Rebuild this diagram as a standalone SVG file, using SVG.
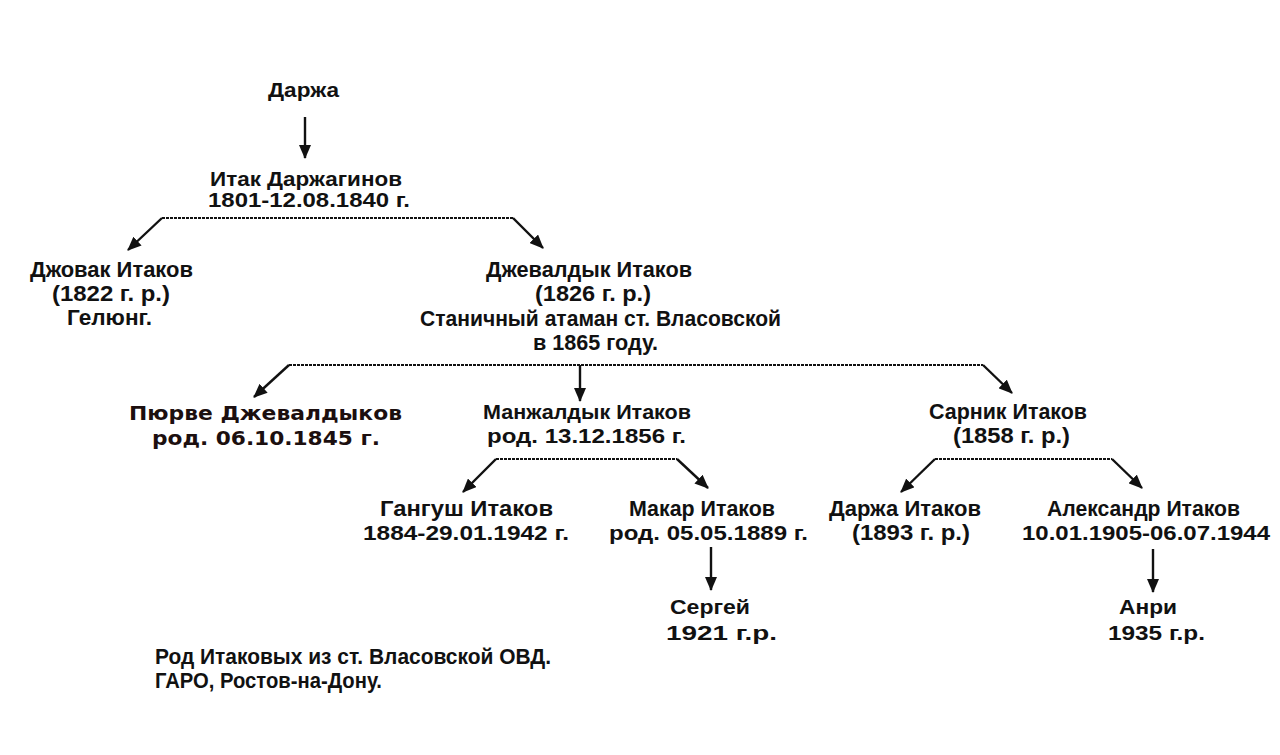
<svg xmlns="http://www.w3.org/2000/svg" width="1280" height="755" viewBox="0 0 1280 755">
<style>
text{font-family:"Liberation Sans",Arial,sans-serif;font-weight:bold;font-size:21px;fill:#111}
.c{font-size:22px}
.v{font-family:"DejaVu Sans",Verdana,sans-serif;font-size:20px;fill:#1c0f0f}
.a{fill:none;stroke:#111;stroke-width:2.4}
.d{fill:none;stroke:#111;stroke-width:2.2;stroke-dasharray:3 1}
</style>
<defs>
<marker id="ah" viewBox="0 0 14 12" refX="13" refY="6" markerWidth="14" markerHeight="12" markerUnits="userSpaceOnUse" orient="auto">
<path d="M0,0 L14,6 L0,12 z" fill="#111"/>
</marker>
</defs>
<rect width="1280" height="755" fill="#fff"/>
<g id="connectors">
<path class="a" d="M305,117 L305,158" marker-end="url(#ah)"/>
<path class="d" d="M162,218 H513"/>
<path class="a" d="M162,218 L128,250" marker-end="url(#ah)"/>
<path class="a" d="M513,218 L543,248" marker-end="url(#ah)"/>
<path class="d" d="M289,365 H983"/>
<path class="a" d="M289,365 L254,397" marker-end="url(#ah)"/>
<path class="a" d="M580,365 L580,401" marker-end="url(#ah)"/>
<path class="a" d="M983,365 L1012,393" marker-end="url(#ah)"/>
<path class="d" d="M496,459 H677"/>
<path class="a" d="M496,459 L463,492" marker-end="url(#ah)"/>
<path class="a" d="M677,459 L708,488" marker-end="url(#ah)"/>
<path class="d" d="M935,459 H1112"/>
<path class="a" d="M935,459 L901,492" marker-end="url(#ah)"/>
<path class="a" d="M1112,459 L1142,488" marker-end="url(#ah)"/>
<path class="a" d="M711,547 L711,590" marker-end="url(#ah)"/>
<path class="a" d="M1153,549 L1153,592" marker-end="url(#ah)"/>
</g>
<g id="darzha"><text x="268" y="97" textLength="71" lengthAdjust="spacingAndGlyphs">Даржа</text></g>
<g id="itak">
<text x="210" y="186" textLength="192" lengthAdjust="spacingAndGlyphs">Итак Даржагинов</text>
<text x="208" y="207" textLength="202" lengthAdjust="spacingAndGlyphs">1801-12.08.1840 г.</text>
</g>
<g id="dzhovak">
<text class="c" x="30" y="277" textLength="163" lengthAdjust="spacingAndGlyphs">Джовак Итаков</text>
<text class="c" x="52" y="301" textLength="118" lengthAdjust="spacingAndGlyphs">(1822 г. р.)</text>
<text class="c" x="67" y="325" textLength="85" lengthAdjust="spacingAndGlyphs">Гелюнг.</text>
</g>
<g id="dzhevaldyk">
<text class="c" x="486" y="277" textLength="206" lengthAdjust="spacingAndGlyphs">Джевалдык Итаков</text>
<text class="c" x="535" y="301" textLength="116" lengthAdjust="spacingAndGlyphs">(1826 г. р.)</text>
<text class="c" x="420" y="326" textLength="361" lengthAdjust="spacingAndGlyphs">Станичный атаман ст. Власовской</text>
<text class="c" x="533" y="350" textLength="125" lengthAdjust="spacingAndGlyphs">в 1865 году.</text>
</g>
<g id="pyurve">
<text class="v" x="129" y="420" textLength="273" lengthAdjust="spacingAndGlyphs">Пюрве Джевалдыков</text>
<text class="v" x="152" y="445" textLength="228" lengthAdjust="spacingAndGlyphs">род. 06.10.1845 г.</text>
</g>
<g id="manzhaldyk">
<text x="483" y="419" textLength="208" lengthAdjust="spacingAndGlyphs">Манжалдык Итаков</text>
<text x="487" y="443" textLength="199" lengthAdjust="spacingAndGlyphs">род. 13.12.1856 г.</text>
</g>
<g id="sarnik">
<text class="c" x="929" y="419" textLength="158" lengthAdjust="spacingAndGlyphs">Сарник Итаков</text>
<text class="c" x="953" y="443" textLength="117" lengthAdjust="spacingAndGlyphs">(1858 г. р.)</text>
</g>
<g id="gangush">
<text class="c" x="380" y="516" textLength="173" lengthAdjust="spacingAndGlyphs">Гангуш Итаков</text>
<text x="363" y="540" textLength="206" lengthAdjust="spacingAndGlyphs">1884-29.01.1942 г.</text>
</g>
<g id="makar">
<text class="c" x="629" y="516" textLength="146" lengthAdjust="spacingAndGlyphs">Макар Итаков</text>
<text x="609" y="540" textLength="199" lengthAdjust="spacingAndGlyphs">род. 05.05.1889 г.</text>
</g>
<g id="darzha-itakov">
<text class="c" x="829" y="516" textLength="152" lengthAdjust="spacingAndGlyphs">Даржа Итаков</text>
<text class="c" x="852" y="540" textLength="118" lengthAdjust="spacingAndGlyphs">(1893 г. р.)</text>
</g>
<g id="aleksandr">
<text class="c" x="1047" y="516" textLength="193" lengthAdjust="spacingAndGlyphs">Александр Итаков</text>
<text x="1022" y="540" textLength="248" lengthAdjust="spacingAndGlyphs">10.01.1905-06.07.1944</text>
</g>
<g id="sergey">
<text x="670" y="614" textLength="80" lengthAdjust="spacingAndGlyphs">Сергей</text>
<text x="666" y="640" textLength="111" lengthAdjust="spacingAndGlyphs">1921 г.р.</text>
</g>
<g id="anri">
<text x="1119" y="614" textLength="58" lengthAdjust="spacingAndGlyphs">Анри</text>
<text x="1108" y="640" textLength="97" lengthAdjust="spacingAndGlyphs">1935 г.р.</text>
</g>
<g id="note">
<text class="c" x="155" y="664" textLength="396" lengthAdjust="spacingAndGlyphs">Род Итаковых из ст. Власовской ОВД.</text>
<text class="c" x="155" y="688" textLength="227" lengthAdjust="spacingAndGlyphs">ГАРО, Ростов-на-Дону.</text>
</g>
</svg>
